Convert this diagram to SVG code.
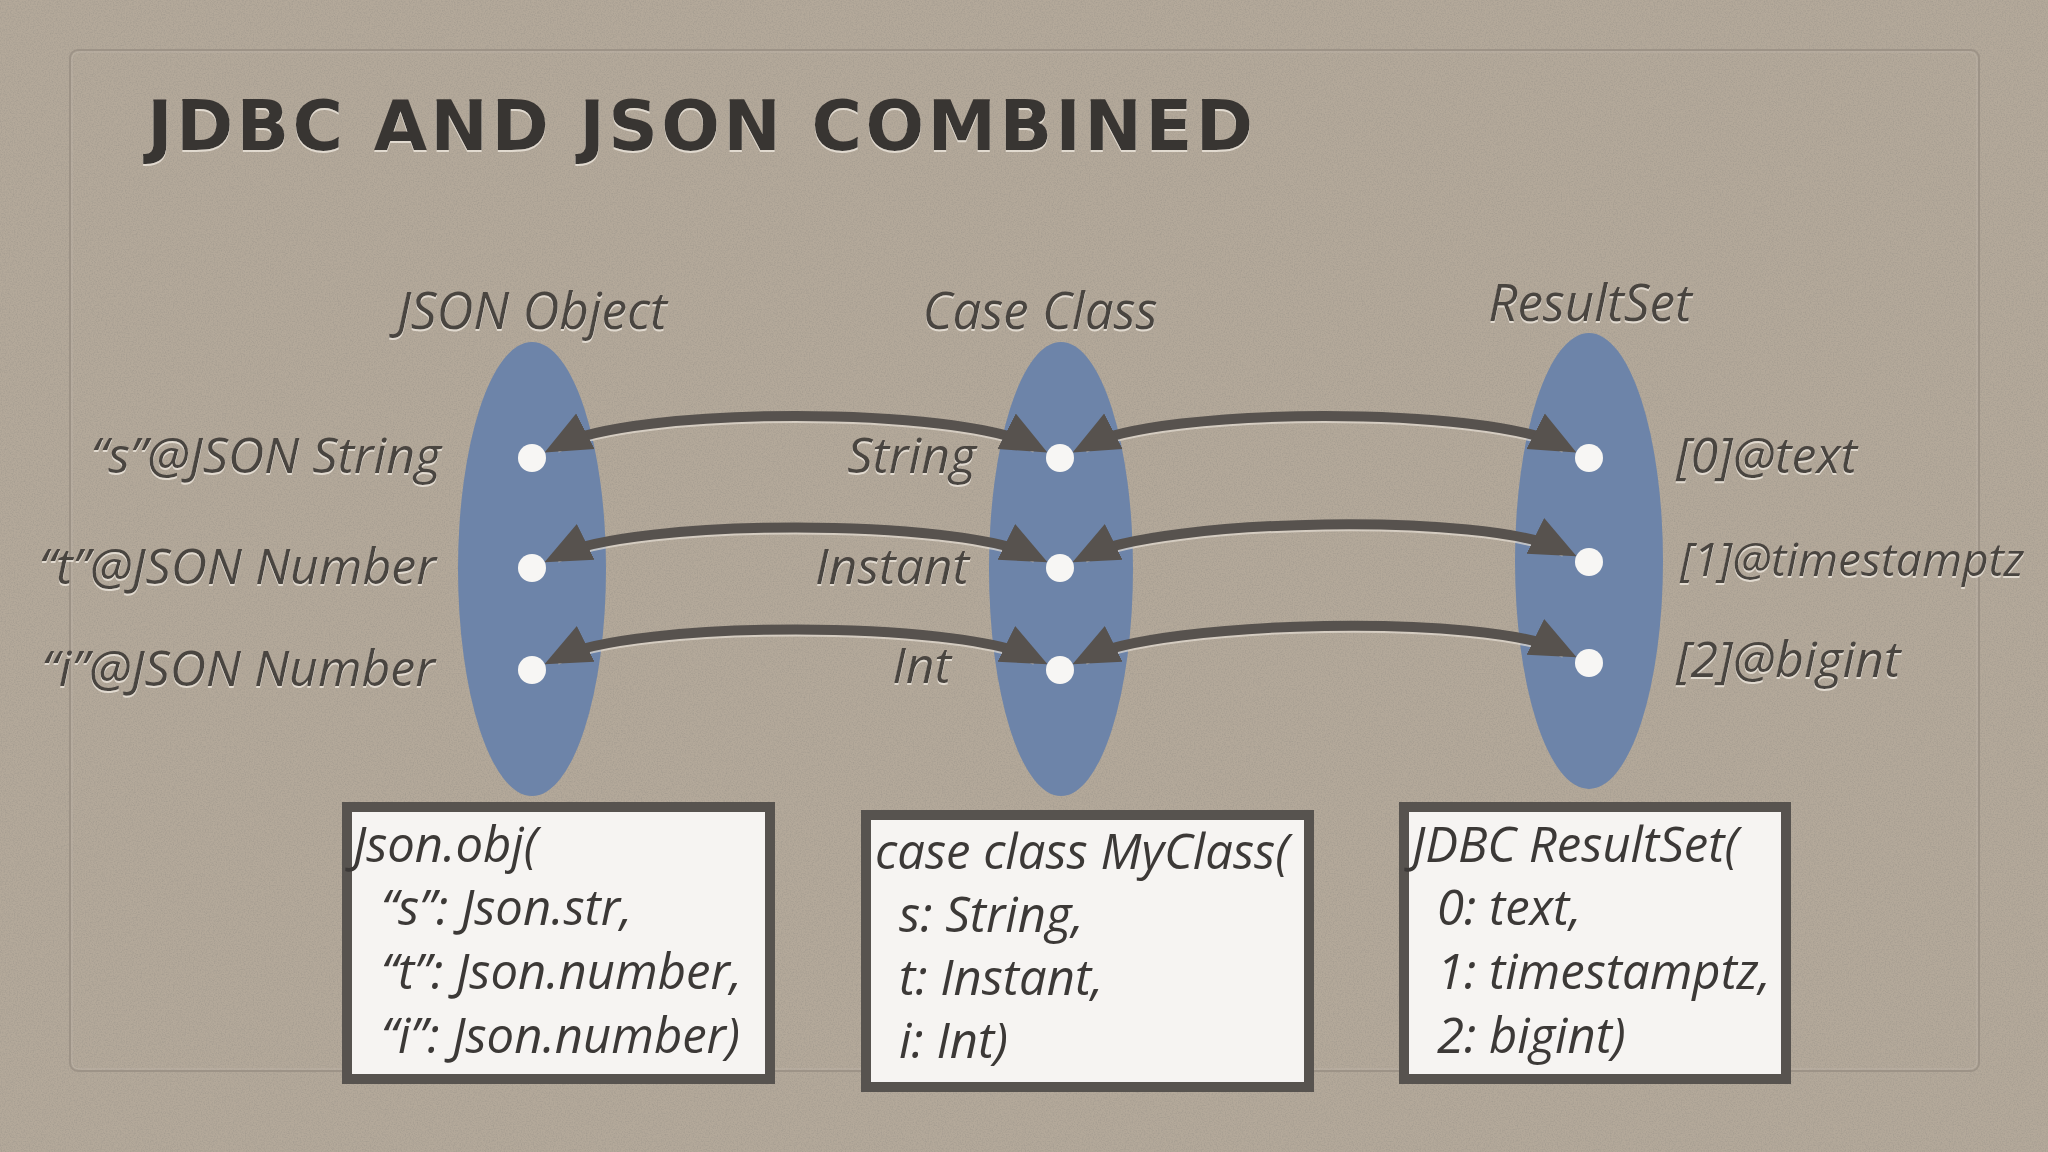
<svg xmlns="http://www.w3.org/2000/svg" width="2048" height="1152" viewBox="0 0 2048 1152">
<defs>
<filter id="noise" x="0" y="0" width="100%" height="100%">
<feTurbulence type="fractalNoise" baseFrequency="0.75" numOctaves="2" seed="3" result="n"/>
<feColorMatrix type="matrix" values="0 0 0 0 0.32  0 0 0 0 0.29  0 0 0 0 0.25  1.1 0 0 0 -0.42"/>
</filter>
<filter id="emb" x="-5%" y="-20%" width="110%" height="150%">
<feDropShadow dx="0" dy="2" stdDeviation="0.6" flood-color="#f2ebe2" flood-opacity="0.75"/>
</filter>
<marker id="ah" viewBox="0 0 46 42" markerUnits="userSpaceOnUse" markerWidth="46" markerHeight="42" refX="32" refY="21" orient="auto-start-reverse">
<path d="M0,1 L46,21 L0,41 z" fill="#57524e"/>
</marker>
<style>
.lbl{font-family:"Open Sans","Noto Sans","Liberation Sans",sans-serif;font-style:italic;font-size:50px;fill:#4a4440;filter:url(#emb)}
.hdr{font-family:"Open Sans","Noto Sans","Liberation Sans",sans-serif;font-style:italic;font-size:51px;fill:#4a4440;text-anchor:middle;filter:url(#emb)}
.ell{fill:#6d84a9}
.dot{fill:#f7f6f4}
.con{fill:none;stroke:#57524e;stroke-width:10;marker-start:url(#ah);marker-end:url(#ah)}
.hl{fill:none;stroke:#e4ddd3;stroke-width:8;opacity:0.7}
.box{fill:#f6f4f2;stroke:#57534f;stroke-width:10}
.code{font-family:"Open Sans","Noto Sans","Liberation Sans",sans-serif;font-style:italic;font-size:49px;fill:#3c3937}
</style>
</defs>
<rect x="0" y="0" width="2048" height="1152" fill="#b4a99a"/>
<rect x="0" y="0" width="2048" height="1152" filter="url(#noise)"/>
<rect x="70" y="50" width="1909" height="1021" rx="8" fill="none" stroke="#9d9387" stroke-width="2"/>
<rect x="72" y="52" width="1905" height="1017" rx="7" fill="none" stroke="#c2b9ad" stroke-width="1" opacity="0.6"/>

<text x="147" y="150" textLength="1106" lengthAdjust="spacing" font-family="'DejaVu Sans','Liberation Sans',sans-serif" font-weight="bold" font-size="69" fill="#393532" filter="url(#emb)">JDBC AND JSON COMBINED</text>

<g id="json-object">
<ellipse class="ell" cx="532" cy="569" rx="74" ry="227"/>
<text class="hdr" x="532" y="329">JSON Object</text>
<text class="lbl" x="441" y="473" text-anchor="end">“s”@JSON String</text>
<text class="lbl" x="436" y="584" text-anchor="end">“t”@JSON Number</text>
<text class="lbl" x="435" y="686" text-anchor="end">“i”@JSON Number</text>
</g>
<g id="case-class">
<ellipse class="ell" cx="1061" cy="569" rx="72" ry="227"/>
<text class="hdr" x="1040" y="329">Case Class</text>
<text class="lbl" x="976" y="473" text-anchor="end">String</text>
<text class="lbl" x="969" y="584" text-anchor="end">Instant</text>
<text class="lbl" x="951" y="683" text-anchor="end">Int</text>
</g>
<g id="resultset">
<ellipse class="ell" cx="1589" cy="561" rx="74" ry="228"/>
<text class="hdr" x="1590" y="321">ResultSet</text>
<text class="lbl" x="1676" y="473">[0]@text</text>
<text class="lbl" x="1680" y="576" style="font-size:46px">[1]@timestamptz</text>
<text class="lbl" x="1676" y="677">[2]@bigint</text>
</g>

<g id="connectors">
<g transform="translate(0,3)">
<path class="hl" d="M557,446 C634,406 958,406 1035,446"/>
<path class="hl" d="M557,556 C634,518 958,518 1035,556"/>
<path class="hl" d="M557,658 C634,620 958,620 1035,658"/>
<path class="hl" d="M1085,446 C1162,406 1487,406 1564,446"/>
<path class="hl" d="M1085,556 C1162,518 1487,512 1564,550"/>
<path class="hl" d="M1085,658 C1162,620 1487,613 1564,651"/>
</g>
<path class="con" d="M557,446 C634,406 958,406 1035,446"/>
<path class="con" d="M557,556 C634,518 958,518 1035,556"/>
<path class="con" d="M557,658 C634,620 958,620 1035,658"/>
<path class="con" d="M1085,446 C1162,406 1487,406 1564,446"/>
<path class="con" d="M1085,556 C1162,518 1487,512 1564,550"/>
<path class="con" d="M1085,658 C1162,620 1487,613 1564,651"/>
</g>

<g id="dots">
<circle class="dot" cx="532" cy="458" r="14"/>
<circle class="dot" cx="532" cy="568" r="14"/>
<circle class="dot" cx="532" cy="670" r="14"/>
<circle class="dot" cx="1060" cy="458" r="14"/>
<circle class="dot" cx="1060" cy="568" r="14"/>
<circle class="dot" cx="1060" cy="670" r="14"/>
<circle class="dot" cx="1589" cy="458" r="14"/>
<circle class="dot" cx="1589" cy="562" r="14"/>
<circle class="dot" cx="1589" cy="663" r="14"/>
</g>

<g id="json-box">
<rect class="box" x="347" y="807" width="423" height="272"/>
<text class="code" x="353" y="862">Json.obj(</text>
<text class="code" x="381" y="925">“s”: Json.str,</text>
<text class="code" x="381" y="989">“t”: Json.number,</text>
<text class="code" x="381" y="1053">“i”: Json.number)</text>
</g>
<g id="case-box">
<rect class="box" x="866" y="815" width="443" height="272"/>
<text class="code" x="875" y="869">case class MyClass(</text>
<text class="code" x="899" y="932">s: String,</text>
<text class="code" x="899" y="995">t: Instant,</text>
<text class="code" x="899" y="1058">i: Int)</text>
</g>
<g id="resultset-box">
<rect class="box" x="1404" y="807" width="382" height="272"/>
<text class="code" x="1412" y="862">JDBC ResultSet(</text>
<text class="code" x="1437" y="925">0: text,</text>
<text class="code" x="1437" y="989">1: timestamptz,</text>
<text class="code" x="1437" y="1053">2: bigint)</text>
</g>
</svg>
